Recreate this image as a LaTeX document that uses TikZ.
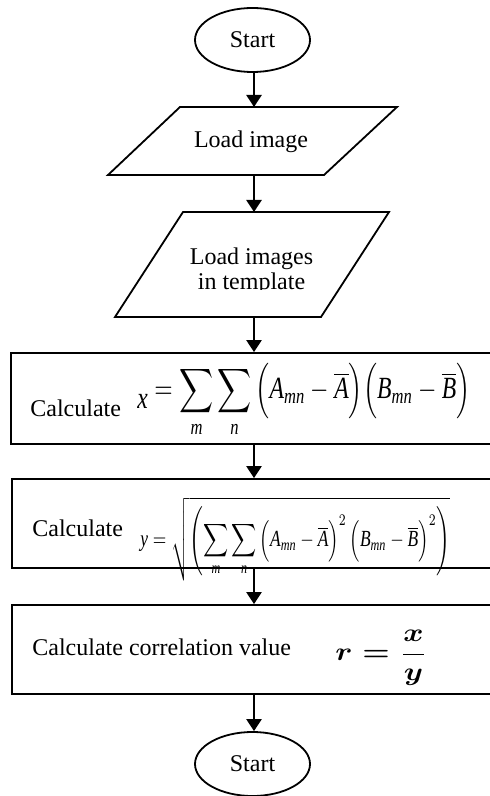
\documentclass[tikz,border=0pt]{standalone}
\usepackage{fontspec}
\setmainfont{Liberation Serif}
\usepackage{graphicx}
\usetikzlibrary{shapes.geometric,arrows.meta}
\newcommand{\bigsumph}{\vphantom{\displaystyle\sum}}
\begin{document}
\begin{tikzpicture}[x=0.5pt,y=-0.5pt,
  txt/.style={font=\fontsize{12}{14}\selectfont,inner sep=0pt},
  term/.style={draw,ellipse,line width=0.9pt,minimum width=57.5pt,minimum height=32pt,inner sep=0pt,font=\fontsize{12}{14}\selectfont},
  iobox/.style={draw,line width=0.9pt},
  procbox/.style={draw,rectangle,line width=0.9pt,minimum width=240pt,inner sep=0pt},
  flow/.style={line width=1.2pt,-{Triangle[width=7.5pt,length=6pt]}},
  fml/.style={inner sep=0pt,anchor=north west}]
\useasboundingbox (0,0) rectangle (490,796);
% terminals
\node[term] (start) at (252.5,40) {Start};
\node[term] (stop) at (252.5,764) {Start};
% parallelogram 1
\draw[iobox] (180,107) -- (397,107) -- (324,175) -- (108,175) -- cycle;
\coordinate (p1top) at (254,107);
\coordinate (p1bot) at (254,175);
\node[txt] (load1) at (251,142) {Load image};
% parallelogram 2
\draw[iobox] (183,212) -- (389,212) -- (321,317) -- (115,317) -- cycle;
\coordinate (p2top) at (254,212);
\coordinate (p2bot) at (254,317);
\node[txt,anchor=base] (load2a) at (251.5,264) {Load images};
\begin{scope}
\clip (120,270) rectangle (390,289.5);
\node[txt,anchor=base] (load2b) at (251.5,290) {in template};
\end{scope}
% process boxes
\node[procbox,minimum height=45.5pt] (b1) at (251,398.5) {};
\node[procbox,minimum height=44.5pt] (b2) at (252,523.5) {};
\node[procbox,minimum height=44.5pt] (b3) at (252,649.5) {};
\node[txt,anchor=base west] (c1) at (30,416) {Calculate};
\node[fml] (f1) at (137,363) {\resizebox*{166.5pt}{37pt}{$\displaystyle \raisebox{-3pt}{$\mathit{x}$} = \sum_{\mathit{m}}\sum_{\mathit{n}}\left(\bigsumph\mathit{A}_{\mathit{mn}} - \overline{\mathit{A}}\right)\!\left(\bigsumph\mathit{B}_{\mathit{mn}} - \overline{\mathit{B}}\right)$}};
\node[txt,anchor=base west] (c2) at (32,536) {Calculate};
\node[fml] (f2) at (140,497) {\resizebox*{155pt}{42pt}{$\mathit{y} = \sqrt{\left(\displaystyle\sum_{\mathit{m}}\sum_{\mathit{n}}\left(\bigsumph\mathit{A}_{\mathit{mn}} - \overline{\mathit{A}}\right)^{2}\left(\bigsumph\mathit{B}_{\mathit{mn}} - \overline{\mathit{B}}\right)^{2}\right)}$}};
\node[txt,anchor=base west] (c3) at (32,655) {Calculate correlation value};
\node[fml] (f3) at (335,630) {\resizebox*{46pt}{27.5pt}{\boldmath$\displaystyle r = \frac{x}{y}$}};
% connectors
\coordinate (ax) at (254,0);
\draw[flow] (start.south -| ax) -- (p1top);
\draw[flow] (p1bot) -- (p2top);
\draw[flow] (p2bot) -- (b1.north -| ax);
\draw[flow] (b1.south -| ax) -- (b2.north -| ax);
\draw[flow] (b2.south -| ax) -- (b3.north -| ax);
\draw[flow] (b3.south -| ax) -- (stop.north -| ax);
\end{tikzpicture}
\end{document}
